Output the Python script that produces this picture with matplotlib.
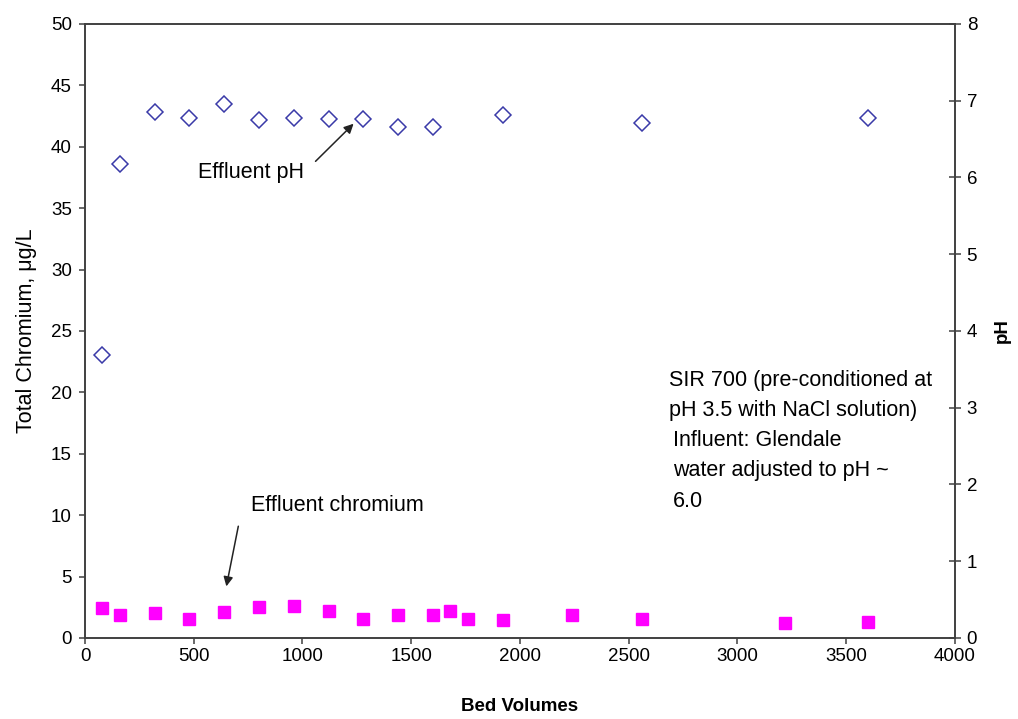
import matplotlib
matplotlib.use("Agg")
import matplotlib.pyplot as plt

plt.rcParams["font.family"] = ["Liberation Sans", "DejaVu Sans"]

# effluent pH readings
ph_bv = [80, 160, 320, 480, 640, 800, 960, 1120, 1280, 1440, 1600, 1920, 2560, 3600]
ph_val = [3.69, 6.18, 6.85, 6.78, 6.96, 6.75, 6.77, 6.76, 6.76, 6.66, 6.66, 6.81, 6.71, 6.78]

# effluent total chromium, ug/L
cr_bv = [80, 160, 320, 480, 640, 800, 960, 1120, 1280, 1440, 1600, 1680, 1760,
         1920, 2240, 2560, 3220, 3600]
cr_val = [2.4, 1.85, 2.0, 1.55, 2.1, 2.5, 2.6, 2.2, 1.55, 1.85, 1.85, 2.2, 1.55,
          1.45, 1.85, 1.55, 1.2, 1.3]

fs = 13.5      # tick labels
fs_note = 15.5 # callouts and notes
axis_col = "#404040"

fig = plt.figure(figsize=(10.18, 7.19), dpi=100)
ax = fig.add_axes([0.0835, 0.1127, 0.8545, 0.854])
ax2 = ax.twinx()

ax.plot(cr_bv, cr_val, linestyle="none", marker="s", markersize=9,
        color="#ff00ff", markeredgecolor="#ff00ff", zorder=3)
ax2.plot(ph_bv, ph_val, linestyle="none", marker="D", markersize=8.5,
         markerfacecolor="none", markeredgecolor="#3a3aa8", markeredgewidth=1.1)

ax.set_xlim(0, 4000)
ax.set_ylim(0, 50)
ax2.set_ylim(0, 8)
ax.set_xticks(range(0, 4001, 500))
ax.set_yticks(range(0, 51, 5))
ax2.set_yticks(range(0, 9))

for a in (ax, ax2):
    for s in a.spines.values():
        s.set_color(axis_col)
        s.set_linewidth(1.2)

ax.tick_params(axis="both", labelsize=fs, color=axis_col, width=1.1, length=4.5,
               direction="out")
ax.tick_params(axis="x", pad=2.5)
ax.tick_params(axis="y", pad=5)
ax2.tick_params(axis="y", labelsize=fs, color=axis_col, width=1.1, length=9,
                direction="inout", pad=4)

ax.set_xlabel("Bed Volumes", fontsize=fs, fontweight="bold", labelpad=24)
ax.set_ylabel("Total Chromium, \u03bcg/L", fontsize=15.5, labelpad=10)
ax2.set_ylabel("pH", fontsize=fs, fontweight="bold", labelpad=12)

arrow_style = dict(arrowstyle="-|>", color="#222222", lw=1.1,
                   mutation_scale=14, shrinkA=0, shrinkB=0)

# callouts
ax2.annotate("", xy=(1235, 6.70), xytext=(1060, 6.21), arrowprops=arrow_style)
ax2.text(518, 6.06, "Effluent pH", fontsize=fs_note, va="center", ha="left")

ax.annotate("", xy=(650, 4.2), xytext=(705, 9.1), arrowprops=arrow_style)
ax.text(763, 10.8, "Effluent chromium", fontsize=fs_note, va="center", ha="left")

note_lines = ["SIR 700 (pre-conditioned at", "pH 3.5 with NaCl solution)"]
for i, line in enumerate(note_lines):
    ax.text(2685, 21.0 - 2.45 * i, line, fontsize=fs_note, va="center", ha="left")

influent_lines = ["Influent: Glendale", "water adjusted to pH ~", "6.0"]
for i, line in enumerate(influent_lines):
    ax.text(2705, 16.1 - 2.5 * i, line, fontsize=fs_note, va="center", ha="left")

fig.savefig("out.png", dpi=100)
